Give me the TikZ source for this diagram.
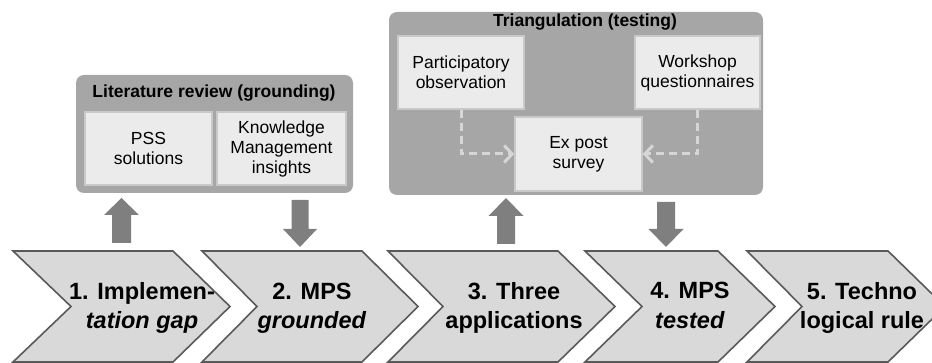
\documentclass[tikz,border=0pt]{standalone}
\usepackage{fontspec}
\setmainfont{Liberation Sans}
\usetikzlibrary{arrows.meta}

\definecolor{panelgray}{HTML}{A6A6A6}
\definecolor{cellfill}{HTML}{EBEBEB}
\definecolor{cellrim}{HTML}{C9C9C9}
\definecolor{stagefill}{HTML}{D9D9D9}
\definecolor{stagerim}{HTML}{595959}
\definecolor{flowgray}{HTML}{7F7F7F}
\definecolor{dashgray}{HTML}{D6D6D6}

\begin{document}
\begin{tikzpicture}[x=1pt,y=-1pt,
  panelbox/.style={fill=panelgray, rounded corners=8pt, inner sep=0pt},
  paneltitle/.style={font=\fontsize{17.5}{20}\selectfont\bfseries, inner sep=0pt},
  cellbox/.style={draw=cellrim, line width=1.5pt, fill=cellfill, align=center,
    font=\fontsize{17.5}{20}\selectfont, inner sep=0pt,
    minimum width=#1, minimum height=73pt},
  stagetext/.style={align=center, font=\fontsize{23.5}{29.5}\selectfont\bfseries, inner sep=0pt},
  chevron/.style={fill=stagefill, draw=stagerim, line width=1.6pt, line join=miter},
  blockarrow/.style={fill=flowgray},
  dasharrow/.style={draw=dashgray, line width=3pt, dash pattern=on 8pt off 5pt,
    -{Straight Barb[length=8pt,width=17pt,line width=3pt]}}
]
\useasboundingbox (0,0) rectangle (932,363);
\clip (0,0) rectangle (932,363);

% ---- five process stages (chevrons) ----
\foreach \l/\n/\r/\t in {13/71/173/230, 202/257/362/418, 388/443/558/615,
                         585/642/718/775, 747/802/888/945}
  \draw[chevron] (\l,251) -- (\r,251) -- (\t,306.5) -- (\r,362) -- (\l,362)
                 -- (\n,306.5) -- cycle;

\node[stagetext] (s1) at (142,308) {1. Implemen-\\\textit{tation gap}};
\node[stagetext] (s2) at (312,308) {2. MPS\\\textit{grounded}};
\node[stagetext] (s3) at (514,308) {3. Three\\applications};
\node[stagetext] (s4) at (690,305.5) {4. MPS\\\textit{tested}};
\node[stagetext] (s5) at (862,308) {5. Techno\\logical rule};

% ---- grounding panel ----
\node[panelbox, minimum width=277pt, minimum height=118pt] (lit) at (214.5,134) {};
\node[paneltitle] (littitle) at (214,93.5) {Literature review (grounding)};
\node[cellbox=127pt] (pss) at (148.5,148.5) {PSS\\solutions};
\node[cellbox=129pt] (km)  at (281.5,148.5) {Knowledge\\Management\\insights};

% ---- testing panel ----
\node[panelbox, minimum width=374pt, minimum height=183pt] (tri) at (576,103.5) {};
\node[paneltitle] (trititle) at (585,22.5) {Triangulation (testing)};
\node[cellbox=126pt] (po) at (461,72.5)   {Participatory\\observation};
\node[cellbox=125pt] (wq) at (697.5,72.5) {Workshop\\questionnaires};
\node[cellbox=127pt, minimum height=74pt] (ex) at (578.5,154) {Ex post\\survey};

\draw[dasharrow] (po.south) |- (ex.west);
\draw[dasharrow] (wq.south) |- (ex.east);

% ---- block arrows between stages and panels ----
% centre x / tip y / head base y / tail y / head half width / shaft half width
\foreach \x/\tip/\hb/\tail/\hw/\sw in {121.5/198/215/243/17.5/9.5,
                                       300/247/229/200/17/8.5,
                                       506/198/216/244/17.5/9,
                                       666/247/229/202/17.5/9}
  \fill[blockarrow] (\x,\tip) -- (\x+\hw,\hb) -- (\x+\sw,\hb) -- (\x+\sw,\tail)
        -- (\x-\sw,\tail) -- (\x-\sw,\hb) -- (\x-\hw,\hb) -- cycle;
\end{tikzpicture}
\end{document}
